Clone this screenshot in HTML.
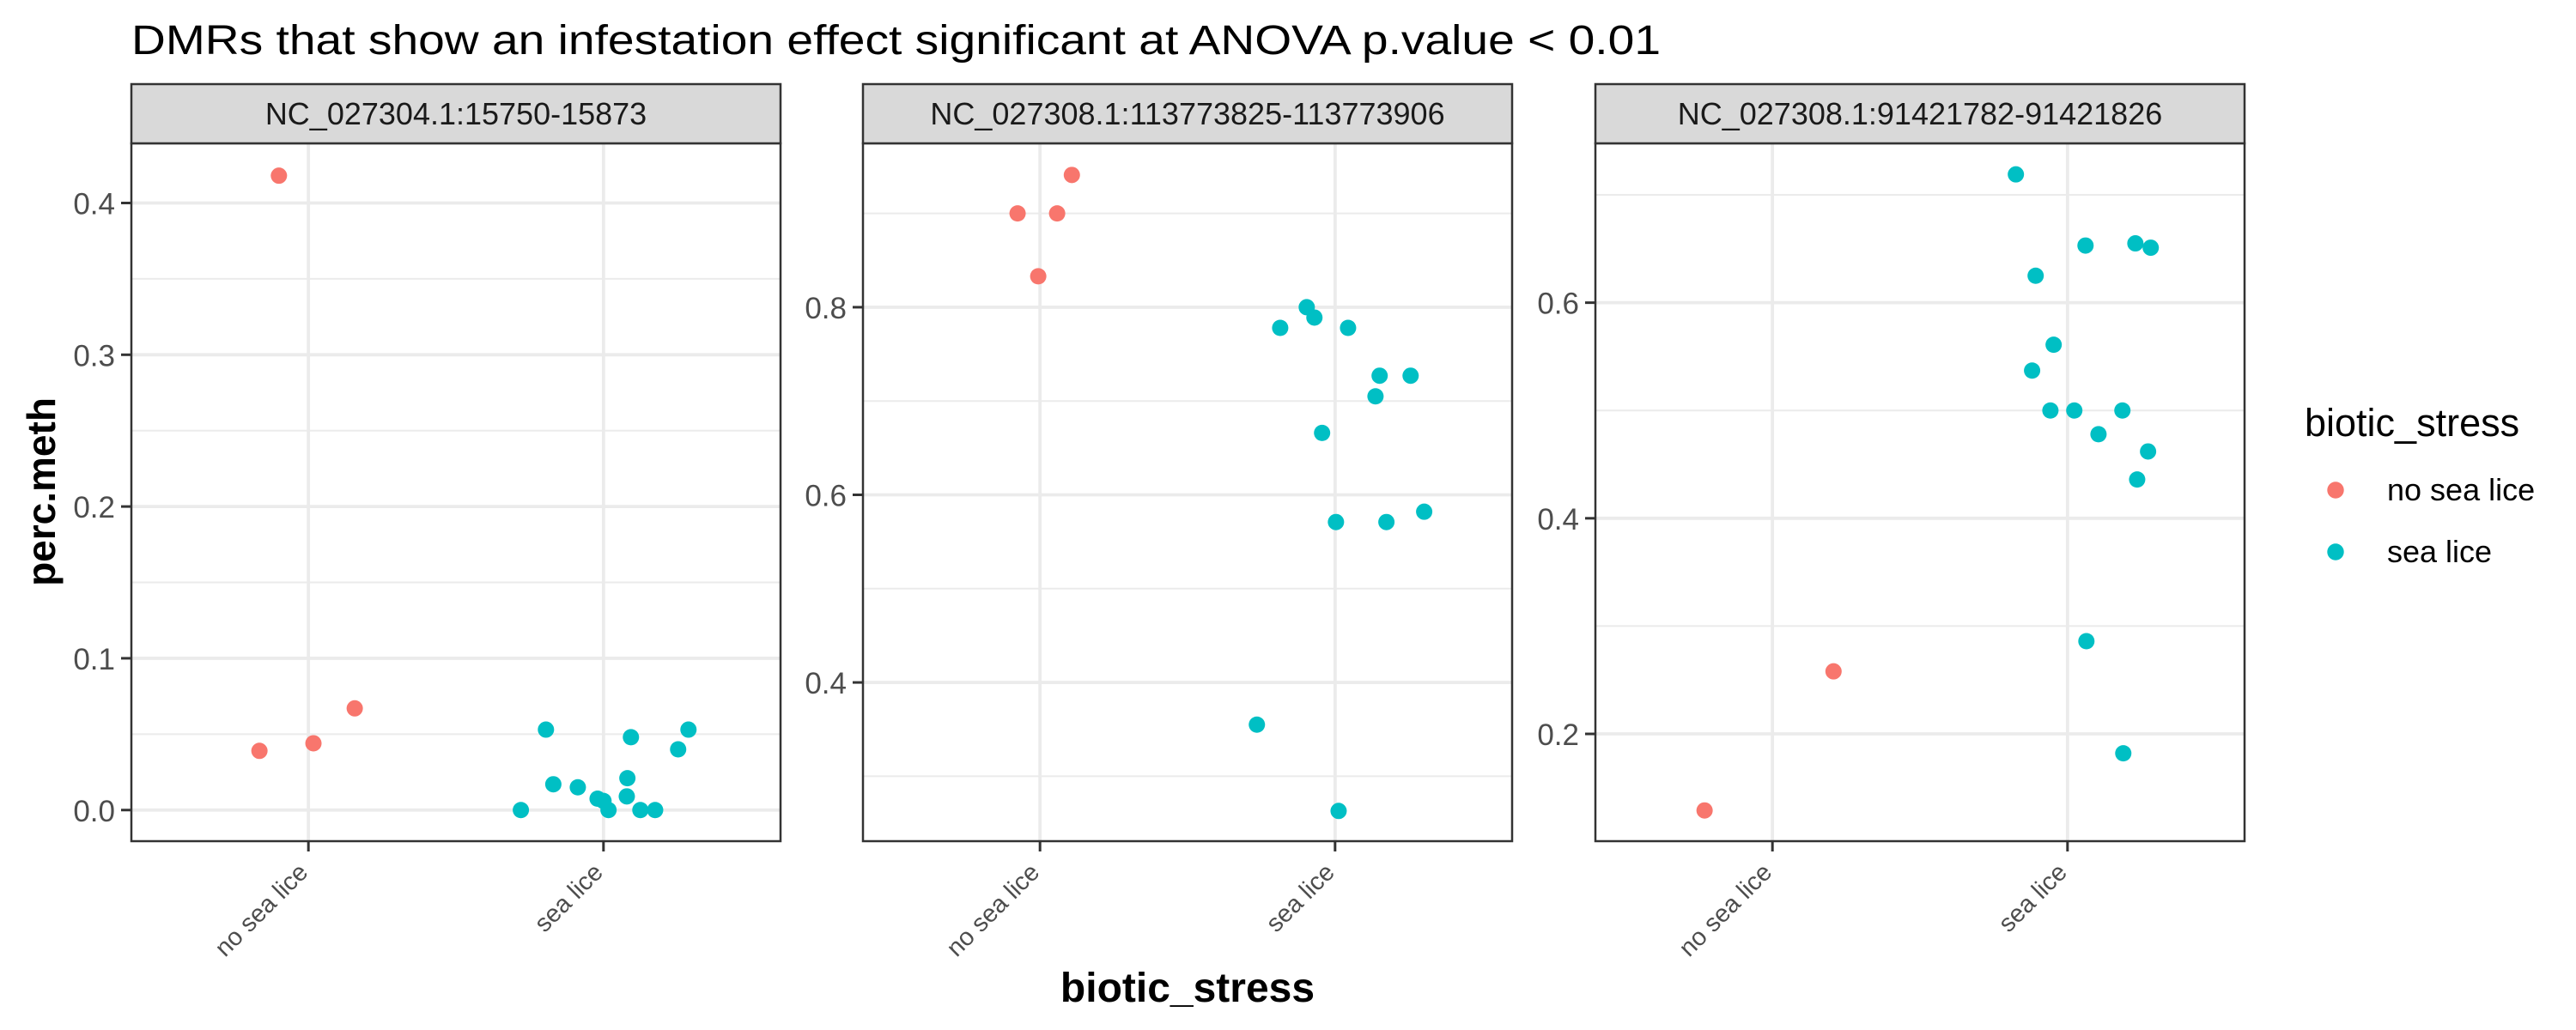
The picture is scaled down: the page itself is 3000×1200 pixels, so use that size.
<!DOCTYPE html>
<html><head><meta charset="utf-8"><style>
html,body{margin:0;padding:0;background:#fff}
svg{display:block;font-family:"Liberation Sans",Arial,sans-serif}
</style></head><body>
<svg id="chart" width="3000" height="1200" viewBox="0 0 3000 1200" xmlns="http://www.w3.org/2000/svg">
<text x="153" y="63" font-size="48" textLength="1781" lengthAdjust="spacingAndGlyphs" fill="#000">DMRs that show an infestation effect significant at ANOVA p.value &lt; 0.01</text>
<text transform="translate(64,573) rotate(-90)" text-anchor="middle" font-size="46" font-weight="bold">perc.meth</text>
<text x="1383" y="1167" text-anchor="middle" font-size="48" font-weight="bold">biotic_stress</text>
<g>
<text x="2684" y="508" font-size="45">biotic_stress</text>
<circle cx="2720" cy="571" r="9.7" fill="#F8766D"/>
<text x="2780" y="583" font-size="36">no sea lice</text>
<circle cx="2720" cy="643" r="9.7" fill="#00BFC4"/>
<text x="2780" y="655" font-size="36">sea lice</text>
</g>
<g id="panels"></g>
</svg>
<script>
const categories = ["no sea lice", "sea lice"];
const facetTitles = ["NC_027304.1:15750-15873", "NC_027308.1:113773825-113773906", "NC_027308.1:91421782-91421826"];
const yTicks1 = [0.0, 0.1, 0.2, 0.3, 0.4];
const yTickLabels1 = ["0.0", "0.1", "0.2", "0.3", "0.4"];
const yTicks2 = [0.4, 0.6, 0.8];
const yTickLabels2 = ["0.4", "0.6", "0.8"];
const yTicks3 = [0.2, 0.4, 0.6];
const yTickLabels3 = ["0.2", "0.4", "0.6"];
const yDomain1 = [-0.0205, 0.4393];
const yDomain2 = [0.2308, 0.9747];
const yDomain3 = [0.1005, 0.7478];
// points: category index, jitter (category units), value
const p1Cat = [0,0,0,0,1,1,1,1,1,1,1,1,1,1,1,1,1,1];
const p1Jit = [-0.10,-0.166,0.017,0.157,-0.28,-0.195,-0.17,-0.087,-0.02,0,0.017,0.079,0.081,0.093,0.125,0.175,0.253,0.288];
const p1Val = [0.418,0.039,0.044,0.067,0,0.053,0.017,0.015,0.0075,0.006,0,0.009,0.021,0.048,0,0,0.04,0.053];
const p2Cat = [0,0,0,0,1,1,1,1,1,1,1,1,1,1,1,1,1];
const p2Jit = [0.108,-0.076,0.058,-0.006,-0.096,-0.07,-0.186,0.044,0.151,0.256,0.137,-0.044,0.003,0.174,0.302,-0.265,0.012];
const p2Val = [0.941,0.900,0.900,0.833,0.800,0.789,0.778,0.778,0.727,0.727,0.705,0.666,0.571,0.571,0.582,0.355,0.263];
const p3Cat = [0,0,1,1,1,1,1,1,1,1,1,1,1,1,1,1,1];
const p3Jit = [-0.23,0.207,-0.175,0.061,0.23,0.282,-0.108,-0.047,-0.12,-0.058,0.023,0.186,0.105,0.273,0.236,0.064,0.189];
const p3Val = [0.129,0.258,0.719,0.653,0.655,0.651,0.625,0.561,0.537,0.5,0.5,0.5,0.478,0.462,0.436,0.286,0.182];

const colors = ["#F8766D", "#00BFC4"];
const NS = "http://www.w3.org/2000/svg";
const root = document.getElementById("panels");
function mk(tag, attrs, parent){const e=document.createElementNS(NS,tag);for(const k in attrs)e.setAttribute(k,attrs[k]);parent.appendChild(e);return e;}

const panelLefts = [153, 1005, 1858];
const pw = 756, topY = 167, bottomY = 980, stripTop = 98;
const facets = [
 {ticks:yTicks1, labels:yTickLabels1, dom:yDomain1, cat:p1Cat, jit:p1Jit, val:p1Val},
 {ticks:yTicks2, labels:yTickLabels2, dom:yDomain2, cat:p2Cat, jit:p2Jit, val:p2Val},
 {ticks:yTicks3, labels:yTickLabels3, dom:yDomain3, cat:p3Cat, jit:p3Jit, val:p3Val}
];
facets.forEach((f, i) => {
  const L = panelLefts[i];
  const g = mk("g", {}, root);
  
  
  const x = v => L + (v - 0.4) / 2.2 * pw;
  const y = v => bottomY - (v - f.dom[0]) / (f.dom[1] - f.dom[0]) * (bottomY - topY);
  mk("rect", {x:L, y:topY, width:pw, height:bottomY-topY, fill:"#fff"}, g);
  const step = f.ticks[1] - f.ticks[0];
  const minors = [];
  for (let k = -1; k < f.ticks.length; k++) minors.push(f.ticks[0] + (k + 0.5) * step);
  minors.forEach(m => {
    if (m > f.dom[0] && m < f.dom[1]) {
      const ln = mk("line", {x1:L, x2:L+pw, y1:y(m), y2:y(m), stroke:"#ebebeb", "stroke-width":2}, g);
      
      
    }
  });
  f.ticks.forEach((t, k) => {
    const ln = mk("line", {x1:L, x2:L+pw, y1:y(t), y2:y(t), stroke:"#ebebeb", "stroke-width":3.8}, g);
    
    
    mk("line", {x1:L-12, x2:L, y1:y(t), y2:y(t), stroke:"#333", "stroke-width":3}, g);
    const tx = mk("text", {x:L-19, y:y(t)+13, "text-anchor":"end", "font-size":35, fill:"#4d4d4d"}, g);
    
    
    tx.textContent = f.labels[k];
  });
  categories.forEach((c, k) => {
    const cx = x(k + 1);
    const ln = mk("line", {x1:cx, x2:cx, y1:topY, y2:bottomY, stroke:"#ebebeb", "stroke-width":3.8}, g);
    
    
    mk("line", {x1:cx, x2:cx, y1:bottomY, y2:bottomY+12, stroke:"#333", "stroke-width":3}, g);
    const tx = mk("text", {transform:"translate(" + (cx+1) + "," + (bottomY+38) + ") rotate(-45)", "text-anchor":"end", "font-size":29, fill:"#4d4d4d"}, g);
    
    
    tx.textContent = c;
  });
  f.val.forEach((v, k) => {
    const c = mk("circle", {cx:x(f.cat[k] + 1 + f.jit[k]), cy:y(v), r:9.5, fill:colors[f.cat[k]]}, g);
    
    
  });
  mk("rect", {x:L, y:topY, width:pw, height:bottomY-topY, fill:"none", stroke:"#333", "stroke-width":2.5}, g);
  const strip = mk("rect", {x:L, y:stripTop, width:pw, height:topY-stripTop, fill:"#d9d9d9", stroke:"#333", "stroke-width":2.5}, g);
  
  
  const st = mk("text", {x:L+pw/2, y:145, "text-anchor":"middle", "font-size":36, fill:"#1a1a1a"}, g);
  
  
  st.textContent = facetTitles[i];
});
</script>
</body></html>
